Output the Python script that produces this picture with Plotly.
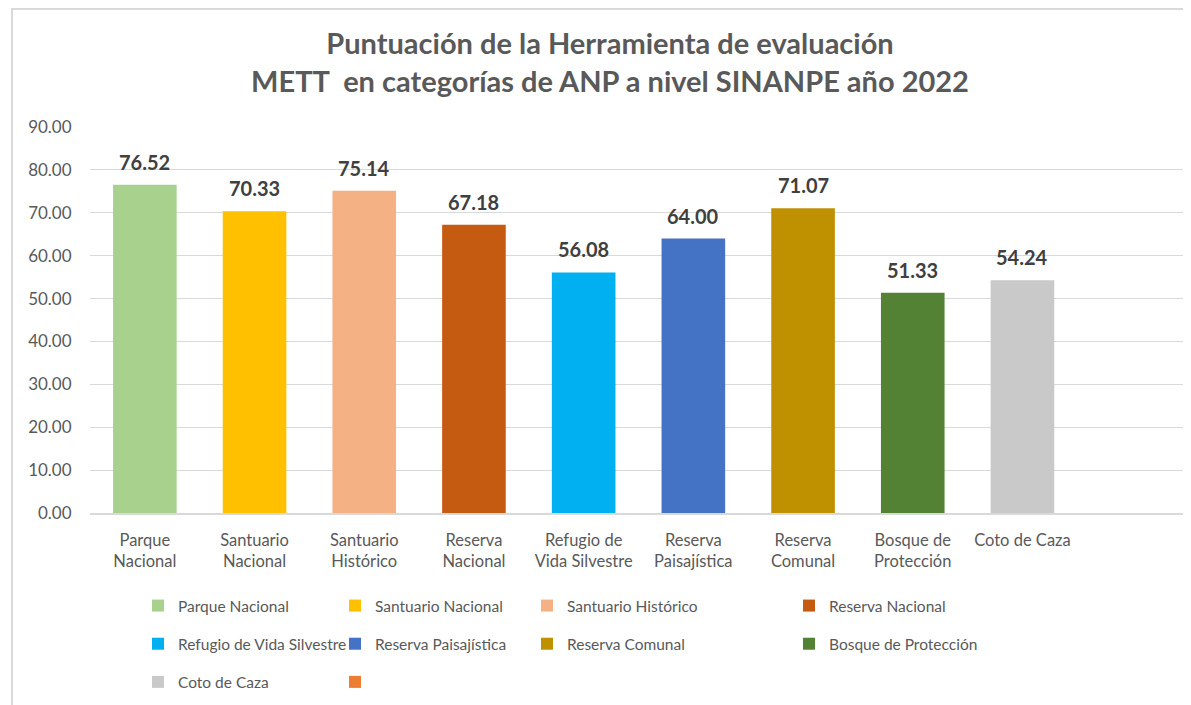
import plotly.graph_objects as go

categories = ["Parque Nacional", "Santuario Nacional", "Santuario Histórico", "Reserva Nacional",
              "Refugio de Vida Silvestre", "Reserva Paisajística", "Reserva Comunal",
              "Bosque de Protección", "Coto de Caza", " "]
tick_labels = ["Parque<br>Nacional", "Santuario<br>Nacional", "Santuario<br>Histórico", "Reserva<br>Nacional",
               "Refugio de<br>Vida Silvestre", "Reserva<br>Paisajística", "Reserva<br>Comunal",
               "Bosque de<br>Protección", "Coto de Caza", " "]
values = [76.52, 70.33, 75.14, 67.18, 56.08, 64.00, 71.07, 51.33, 54.24, None]
colors = ["#A9D18E", "#FFC000", "#F4B183", "#C55A11", "#00B0F0", "#4472C4", "#BF9000",
          "#548235", "#C9C9C9", "#ED7D31"]
legend_ids = ["legend", "legend2", "legend3", "legend4", "legend", "legend2", "legend3",
              "legend4", "legend", "legend2"]

FONT = "Lato"
W, H = 1191, 705
ML, MR, MT, MB = 82, 12, 119, 200
PW, PH = W - ML - MR, H - MT - MB

fig = go.Figure()
for i, cat in enumerate(categories):
    fig.add_trace(go.Bar(
        x=[tick_labels[i]], y=[values[i]], name=cat, legendgroup=cat, legend=legend_ids[i],
        marker=dict(color=colors[i], line=dict(width=0)),
        hoverinfo="skip",
    ))

annotations = []
for i, v in enumerate(values):
    if v is None:
        continue
    annotations.append(dict(x=tick_labels[i], y=v, xref="x", yref="y", text=f"{v:.2f}",
                            showarrow=False, yanchor="bottom", yshift=9,
                            font=dict(family=FONT, size=20, color="#404040", weight="bold")))

def px_x(p):
    return (p - ML) / PW

def px_y(p):
    return (MT + PH - p) / PH

legend_common = dict(orientation="v", xanchor="left", yanchor="top",
                     font=dict(family=FONT, size=15.5, color="#595959"),
                     bgcolor="rgba(0,0,0,0)", tracegroupgap=15, itemclick=False)
col_x = [130, 327, 519, 781]
legend_top = 581
fig.update_layout(
    legend=dict(x=px_x(col_x[0]), y=px_y(legend_top), **legend_common),
    legend2=dict(x=px_x(col_x[1]), y=px_y(legend_top), **legend_common),
    legend3=dict(x=px_x(col_x[2]), y=px_y(legend_top), **legend_common),
    legend4=dict(x=px_x(col_x[3]), y=px_y(legend_top), **legend_common),
)

fig.update_layout(
    width=W, height=H,
    margin=dict(l=ML, r=MR, t=MT, b=MB),
    paper_bgcolor="white", plot_bgcolor="white",
    barmode="overlay", bargap=0.42,
    title=dict(text="Puntuación de la Herramienta de evaluación<br>METT  en categorías de ANP a nivel SINANPE año 2022",
               x=602 / W, xanchor="center", y=1 - 46 / H, yanchor="top",
               font=dict(family=FONT, size=29, color="#595959", weight="bold")),
    xaxis=dict(categoryorder="array", categoryarray=tick_labels,
               tickfont=dict(family=FONT, size=16.5, color="#595959"),
               ticks="outside", ticklen=11, tickcolor="rgba(0,0,0,0)",
               showline=True, linecolor="#D9D9D9", linewidth=1.5, showgrid=False),
    yaxis=dict(range=[0, 90], dtick=10, tickformat=".2f",
               tickfont=dict(family=FONT, size=17, color="#595959"),
               showgrid=True, gridcolor="#D9D9D9", gridwidth=1,
               zeroline=False, showline=False, ticks="outside", ticklen=14,
               tickcolor="rgba(0,0,0,0)"),
    showlegend=True,
    annotations=annotations,
    shapes=[dict(type="rect", xref="paper", yref="paper",
                 x0=px_x(4), x1=px_x(1210), y0=px_y(720), y1=px_y(1),
                 line=dict(color="#D9D9D9", width=2), fillcolor="rgba(0,0,0,0)", layer="below")],
)

fig.write_html("out.html")
